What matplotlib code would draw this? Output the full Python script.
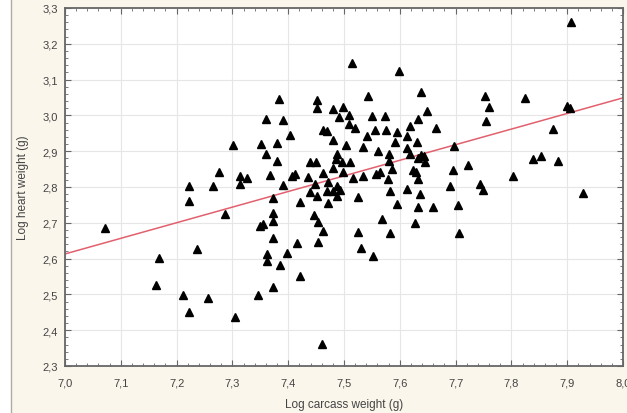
import numpy as np
import matplotlib.pyplot as plt
from matplotlib.ticker import MultipleLocator, FuncFormatter
from matplotlib.patches import Rectangle
from matplotlib.lines import Line2D

# log carcass weight (g)
carcass = [7.072, 7.168, 7.163, 7.211, 7.222, 7.256, 7.237, 7.222, 7.222, 7.265,
           7.276, 7.287, 7.301, 7.305, 7.314, 7.326, 7.314, 7.346, 7.351, 7.360,
           7.360, 7.373, 7.373, 7.373, 7.349, 7.355, 7.373, 7.367, 7.380, 7.380,
           7.383, 7.391, 7.391, 7.403, 7.407, 7.412, 7.362, 7.362, 7.398, 7.385,
           7.421, 7.373, 7.416, 7.421, 7.439, 7.446, 7.453, 7.462, 7.453, 7.461,
           7.439, 7.452, 7.470, 7.480, 7.493, 7.487, 7.471, 7.452, 7.452, 7.480,
           7.498, 7.491, 7.509, 7.514, 7.543, 7.599, 7.638, 7.649, 7.550, 7.573,
           7.509, 7.520, 7.633, 7.462, 7.469, 7.556, 7.575, 7.595, 7.618, 7.665,
           7.480, 7.541, 7.613, 7.591, 7.631, 7.504, 7.534, 7.613, 7.487, 7.561,
           7.581, 7.618, 7.638, 7.643, 7.633, 7.645, 7.450, 7.486, 7.496, 7.511,
           7.581, 7.480, 7.462, 7.498, 7.557, 7.564, 7.586, 7.624, 7.629, 7.633,
           7.534, 7.435, 7.448, 7.471, 7.487, 7.516, 7.579, 7.613, 7.636, 7.582,
           7.525, 7.595, 7.633, 7.659, 7.568, 7.627, 7.525, 7.582, 7.530, 7.552,
           7.704, 7.706, 7.753, 7.824, 7.760, 7.754, 7.900, 7.905, 7.907, 7.874,
           7.697, 7.839, 7.853, 7.883, 7.722, 7.695, 7.803, 7.690, 7.744, 7.749,
           7.928]

# log heart weight (g)
heart = [2.686, 2.602, 2.526, 2.498, 2.451, 2.490, 2.627, 2.803, 2.761, 2.803,
         2.842, 2.725, 2.917, 2.437, 2.831, 2.825, 2.808, 2.498, 2.920, 2.990,
         2.892, 2.769, 2.727, 2.705, 2.691, 2.697, 2.658, 2.834, 2.923, 2.873,
         3.046, 2.987, 2.806, 2.945, 2.831, 2.836, 2.613, 2.593, 2.616, 2.582,
         2.551, 2.521, 2.644, 2.758, 2.870, 2.722, 2.702, 2.677, 2.646, 2.362,
         2.786, 2.775, 2.789, 2.789, 2.792, 2.775, 2.755, 3.043, 3.021, 3.018,
         3.024, 2.996, 3.001, 3.146, 3.054, 3.124, 3.065, 3.012, 2.998, 2.998,
         2.976, 2.965, 2.990, 2.959, 2.957, 2.959, 2.959, 2.954, 2.970, 2.965,
         2.931, 2.942, 2.942, 2.926, 2.926, 2.917, 2.912, 2.909, 2.892, 2.901,
         2.892, 2.892, 2.889, 2.887, 2.881, 2.870, 2.870, 2.878, 2.870, 2.870,
         2.873, 2.853, 2.839, 2.842, 2.836, 2.842, 2.850, 2.848, 2.842, 2.822,
         2.831, 2.828, 2.808, 2.814, 2.803, 2.825, 2.822, 2.794, 2.781, 2.789,
         2.772, 2.753, 2.744, 2.744, 2.711, 2.700, 2.674, 2.672, 2.630, 2.607,
         2.750, 2.672, 3.054, 3.049, 3.024, 2.984, 3.026, 3.021, 3.261, 2.962,
         2.915, 2.878, 2.887, 2.873, 2.862, 2.848, 2.831, 2.803, 2.808, 2.792,
         2.783]

# fitted line
fit_intercept = 2.613
fit_slope = 0.436
fit_x = [7.0, 8.0]

fig = plt.figure(figsize=(6.27, 4.14), dpi=100, facecolor='white')
fig.add_artist(Rectangle((11/627, 0), 1, 1, transform=fig.transFigure,
                         facecolor='#faf6ec', edgecolor='none', zorder=-10))
fig.add_artist(Line2D([11/627, 11/627], [0, 1], transform=fig.transFigure,
                      color='#b0aca4', lw=1))
ax = fig.add_axes([65/627, 1 - 367/414, 558/627, 358/414])
ax.set_facecolor('white')

fit_y = [fit_intercept + fit_slope * (v - 7.0) for v in fit_x]
ax.plot(fit_x, fit_y, color='#e2606e', lw=1.1, zorder=2)
ax.plot(carcass, heart, linestyle='none', marker='^', color='black',
        markersize=5.8, zorder=3)

ax.set_xlim(7.0, 8.0)
ax.set_ylim(2.3, 3.3)
ax.xaxis.set_major_locator(MultipleLocator(0.1))
ax.yaxis.set_major_locator(MultipleLocator(0.1))
ax.xaxis.set_minor_locator(MultipleLocator(0.02))
ax.yaxis.set_minor_locator(MultipleLocator(0.02))
comma = FuncFormatter(lambda v, p: ('%.1f' % v).replace('.', ','))
ax.xaxis.set_major_formatter(comma)
ax.yaxis.set_major_formatter(comma)
ax.grid(True, which='major', color='#e6e6e6', lw=0.8)
ax.set_axisbelow(True)
ax.tick_params(which='both', direction='in', top=True, right=True,
               color='#666666', labelsize=8, labelcolor='#444444')
ax.tick_params(which='major', length=4)
ax.tick_params(which='minor', length=2.5)
ax.tick_params(axis='x', which='major', pad=8)
ax.tick_params(axis='y', which='major', pad=5)
for s in ax.spines.values():
    s.set_color('#666666')
    s.set_linewidth(1.3)

for lab in ax.get_xticklabels() + ax.get_yticklabels():
    lab.set_family('Liberation Sans')

ax.set_xlabel('Log carcass weight (g)', fontsize=8.5, color='#444444',
              family='Liberation Sans', labelpad=8)
ax.set_ylabel('Log heart weight (g)', fontsize=8.5, color='#444444',
              family='Liberation Sans', labelpad=10)

fig.savefig('out.png', dpi=100, facecolor=fig.get_facecolor())
